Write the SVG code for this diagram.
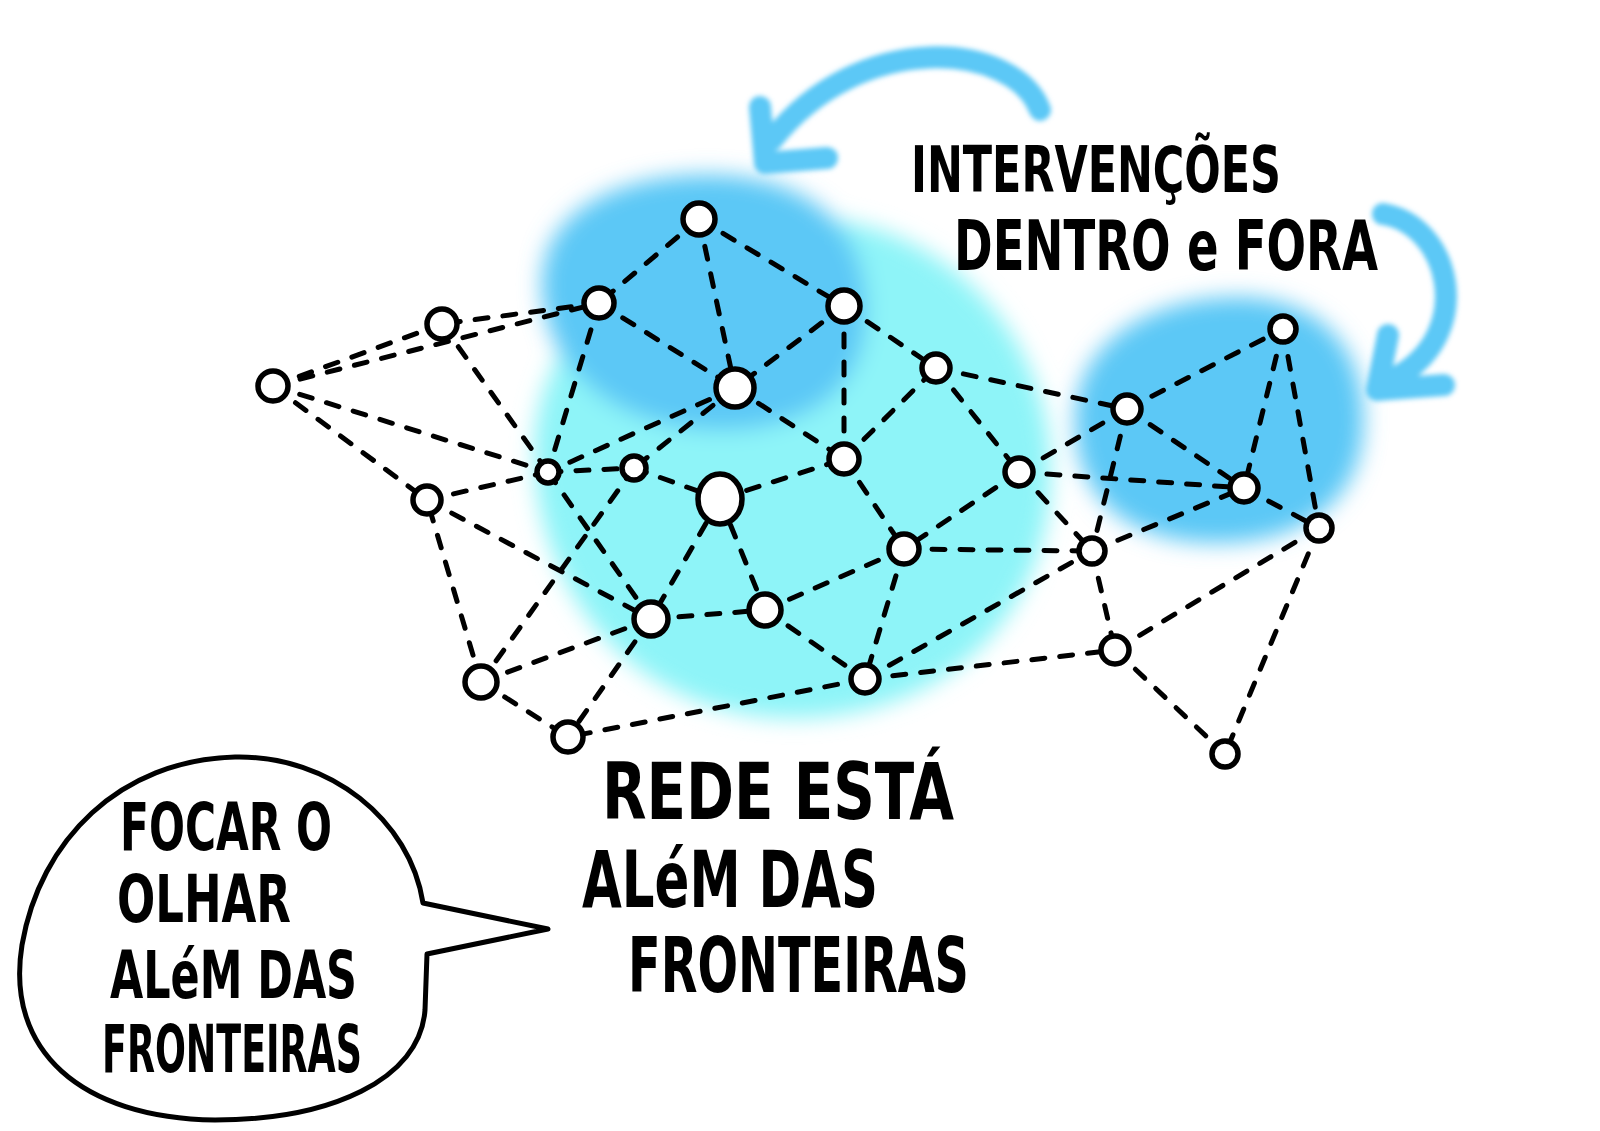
<svg xmlns="http://www.w3.org/2000/svg" width="1600" height="1131" viewBox="0 0 1600 1131">
<defs>
<filter id="blur" x="-40%" y="-40%" width="180%" height="180%"><feGaussianBlur stdDeviation="11"/></filter>
<filter id="softblur" x="-20%" y="-20%" width="140%" height="140%"><feGaussianBlur stdDeviation="2.5"/></filter>
<style>
.edge{stroke:#000;stroke-width:5;fill:none;stroke-dasharray:13 15;stroke-linecap:round}
.node{fill:#fff;stroke:#000;stroke-width:5.5}
.arrow{stroke:#5cc8f6;stroke-width:22;fill:none;stroke-linecap:round;stroke-linejoin:round}
.hand{font-family:'Liberation Sans Narrow','DejaVu Sans Condensed','Liberation Sans',sans-serif;font-weight:bold;fill:#000}
.bubble{fill:#fff;stroke:#000;stroke-width:5;stroke-linejoin:round}
</style>
</defs>
<rect width="1600" height="1131" fill="#fff"/>
<g id="blobs" filter="url(#blur)">
<path d="M535,470 C525,340 640,225 790,218 C930,212 1040,320 1050,450 C1060,600 960,712 805,718 C650,724 545,610 535,470 Z" fill="#8ef4f8"/>
<path d="M542,290 C538,205 630,172 720,175 C822,180 872,240 866,322 C860,402 790,432 715,430 C618,428 547,372 542,290 Z" fill="#5cc8f6"/>
<path d="M1075,420 C1075,338 1158,295 1245,297 C1332,302 1368,360 1363,432 C1358,503 1300,543 1218,543 C1126,543 1075,497 1075,420 Z" fill="#5cc8f6"/>
</g>
<g id="arrows" filter="url(#softblur)">
<path class="arrow" d="M1040,110 C1015,42 860,28 772,140"/>
<path class="arrow" d="M760,107 L765,163 L827,158"/>
<path class="arrow" d="M1383,214 C1450,225 1475,330 1400,375"/>
<path class="arrow" d="M1388,335 L1377,390 L1444,385"/>
</g>
<g id="connectors">
<line class="edge" x1="699" y1="219" x2="599" y2="303"/>
<line class="edge" x1="699" y1="219" x2="735" y2="388"/>
<line class="edge" x1="699" y1="219" x2="844" y2="306"/>
<line class="edge" x1="599" y1="303" x2="735" y2="388"/>
<line class="edge" x1="599" y1="303" x2="548" y2="472"/>
<line class="edge" x1="599" y1="303" x2="442" y2="324"/>
<line class="edge" x1="273" y1="386" x2="442" y2="324"/>
<line class="edge" x1="273" y1="386" x2="599" y2="303"/>
<line class="edge" x1="273" y1="386" x2="548" y2="472"/>
<line class="edge" x1="273" y1="386" x2="427" y2="500"/>
<line class="edge" x1="442" y1="324" x2="548" y2="472"/>
<line class="edge" x1="844" y1="306" x2="735" y2="388"/>
<line class="edge" x1="844" y1="306" x2="844" y2="459"/>
<line class="edge" x1="844" y1="306" x2="936" y2="368"/>
<line class="edge" x1="735" y1="388" x2="548" y2="472"/>
<line class="edge" x1="735" y1="388" x2="634" y2="468"/>
<line class="edge" x1="735" y1="388" x2="844" y2="459"/>
<line class="edge" x1="548" y1="472" x2="634" y2="468"/>
<line class="edge" x1="548" y1="472" x2="427" y2="500"/>
<line class="edge" x1="548" y1="472" x2="651" y2="619"/>
<line class="edge" x1="634" y1="468" x2="481" y2="682"/>
<line class="edge" x1="634" y1="468" x2="720" y2="499"/>
<line class="edge" x1="720" y1="499" x2="844" y2="459"/>
<line class="edge" x1="720" y1="499" x2="651" y2="619"/>
<line class="edge" x1="720" y1="499" x2="765" y2="610"/>
<line class="edge" x1="844" y1="459" x2="936" y2="368"/>
<line class="edge" x1="844" y1="459" x2="904" y2="549"/>
<line class="edge" x1="936" y1="368" x2="1019" y2="472"/>
<line class="edge" x1="936" y1="368" x2="1127" y2="409"/>
<line class="edge" x1="1019" y1="472" x2="904" y2="549"/>
<line class="edge" x1="1019" y1="472" x2="1127" y2="409"/>
<line class="edge" x1="1019" y1="472" x2="1244" y2="488"/>
<line class="edge" x1="1019" y1="472" x2="1092" y2="551"/>
<line class="edge" x1="904" y1="549" x2="1092" y2="551"/>
<line class="edge" x1="904" y1="549" x2="765" y2="610"/>
<line class="edge" x1="904" y1="549" x2="865" y2="679"/>
<line class="edge" x1="651" y1="619" x2="765" y2="610"/>
<line class="edge" x1="651" y1="619" x2="481" y2="682"/>
<line class="edge" x1="651" y1="619" x2="568" y2="737"/>
<line class="edge" x1="765" y1="610" x2="865" y2="679"/>
<line class="edge" x1="865" y1="679" x2="568" y2="737"/>
<line class="edge" x1="865" y1="679" x2="1092" y2="551"/>
<line class="edge" x1="865" y1="679" x2="1115" y2="650"/>
<line class="edge" x1="481" y1="682" x2="568" y2="737"/>
<line class="edge" x1="481" y1="682" x2="427" y2="500"/>
<line class="edge" x1="427" y1="500" x2="651" y2="619"/>
<line class="edge" x1="1092" y1="551" x2="1115" y2="650"/>
<line class="edge" x1="1127" y1="409" x2="1092" y2="551"/>
<line class="edge" x1="1092" y1="551" x2="1244" y2="488"/>
<line class="edge" x1="1319" y1="528" x2="1115" y2="650"/>
<line class="edge" x1="1319" y1="528" x2="1225" y2="754"/>
<line class="edge" x1="1115" y1="650" x2="1225" y2="754"/>
<line class="edge" x1="1127" y1="409" x2="1283" y2="329"/>
<line class="edge" x1="1127" y1="409" x2="1244" y2="488"/>
<line class="edge" x1="1283" y1="329" x2="1244" y2="488"/>
<line class="edge" x1="1283" y1="329" x2="1319" y2="528"/>
<line class="edge" x1="1244" y1="488" x2="1319" y2="528"/>
</g>
<g id="nodes">
<g id="n-a"><circle class="node" cx="699" cy="219" r="16"/></g>
<g id="n-b"><circle class="node" cx="599" cy="303" r="15"/></g>
<g id="n-c"><circle class="node" cx="844" cy="306" r="16"/></g>
<g id="n-d"><circle class="node" cx="442" cy="324" r="15"/></g>
<g id="n-e"><circle class="node" cx="273" cy="386" r="15"/></g>
<g id="n-f"><circle class="node" cx="735" cy="388" r="19"/></g>
<g id="n-g"><circle class="node" cx="936" cy="368" r="14"/></g>
<g id="n-h"><circle class="node" cx="1127" cy="409" r="14"/></g>
<g id="n-i"><circle class="node" cx="1283" cy="329" r="13"/></g>
<g id="n-j"><circle class="node" cx="548" cy="472" r="11"/></g>
<g id="n-k"><circle class="node" cx="634" cy="468" r="12"/></g>
<g id="n-l"><ellipse class="node" cx="720" cy="499" rx="22" ry="25"/></g>
<g id="n-m"><circle class="node" cx="844" cy="459" r="15"/></g>
<g id="n-n"><circle class="node" cx="1019" cy="472" r="14"/></g>
<g id="n-o"><circle class="node" cx="1244" cy="488" r="14"/></g>
<g id="n-p"><circle class="node" cx="1319" cy="528" r="13"/></g>
<g id="n-q"><circle class="node" cx="427" cy="500" r="14"/></g>
<g id="n-r"><circle class="node" cx="904" cy="549" r="15"/></g>
<g id="n-s"><circle class="node" cx="1092" cy="551" r="13"/></g>
<g id="n-t"><circle class="node" cx="651" cy="619" r="17"/></g>
<g id="n-u"><circle class="node" cx="765" cy="610" r="16"/></g>
<g id="n-v"><circle class="node" cx="1115" cy="650" r="14"/></g>
<g id="n-w"><circle class="node" cx="481" cy="682" r="16"/></g>
<g id="n-x"><circle class="node" cx="865" cy="679" r="14"/></g>
<g id="n-y"><circle class="node" cx="568" cy="737" r="15"/></g>
<g id="n-z"><circle class="node" cx="1225" cy="754" r="13"/></g>
</g>
<g id="labels">
<text class="hand" x="911" y="192" font-size="64" textLength="370" lengthAdjust="spacingAndGlyphs">INTERVENÇÕES</text>
<text class="hand" x="954" y="270" font-size="70" textLength="424" lengthAdjust="spacingAndGlyphs">DENTRO e FORA</text>
<text class="hand" x="602" y="819" font-size="78" textLength="352" lengthAdjust="spacingAndGlyphs">REDE ESTÁ</text>
<text class="hand" x="582" y="907" font-size="78" textLength="296" lengthAdjust="spacingAndGlyphs">ALéM DAS</text>
<text class="hand" x="628" y="992" font-size="76" textLength="341" lengthAdjust="spacingAndGlyphs">FRONTEIRAS</text>
</g>
<g id="bubble">
<path class="bubble" d="M423,903 C410,820 330,755 235,757 C120,760 40,840 22,945 C5,1050 80,1118 215,1120 C330,1120 420,1080 425,1010 L427,954 L548,929 Z"/>
<text class="hand" x="120" y="850" font-size="66" textLength="212" lengthAdjust="spacingAndGlyphs">FOCAR O</text>
<text class="hand" x="117" y="922" font-size="66" textLength="174" lengthAdjust="spacingAndGlyphs">OLHAR</text>
<text class="hand" x="110" y="998" font-size="66" textLength="247" lengthAdjust="spacingAndGlyphs">ALéM DAS</text>
<text class="hand" x="102" y="1072" font-size="66" textLength="260" lengthAdjust="spacingAndGlyphs">FRONTEIRAS</text>
</g>
</svg>
